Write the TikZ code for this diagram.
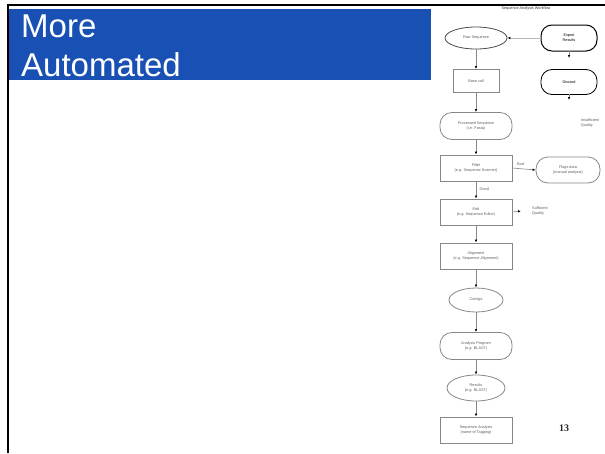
\documentclass[tikz,border=0pt]{standalone}
\usepackage{fontspec}
\setmainfont{Liberation Sans}
\newfontfamily\numfont{Liberation Serif}
\usetikzlibrary{shapes.geometric,arrows.meta}
\definecolor{slideblue}{RGB}{24,80,180}
\definecolor{boxline}{RGB}{135,135,135}
\definecolor{tinytext}{RGB}{95,95,95}
\tikzset{
  base/.style={draw=boxline,line width=0.8pt,fill=white,font=\fontsize{3.8}{4.6}\selectfont,text=tinytext,align=center,inner sep=1pt},
  rectbox/.style={base,rectangle,minimum width=72pt,minimum height=26pt},
  ovalbox/.style={base,ellipse,minimum width=60pt,minimum height=24pt},
  pillbox/.style={base,rectangle,rounded corners=12pt,minimum width=72pt,minimum height=27pt},
  sidebox/.style={base,draw=black,line width=1pt,rectangle,rounded corners=11pt,minimum width=56pt,minimum height=26pt,text=black},
  flow/.style={draw=boxline,line width=0.6pt,-{Latex[length=3pt,width=2.5pt,color=black]}},
  lbl/.style={font=\fontsize{3.8}{4.6}\selectfont,text=tinytext,align=left},
  titletext/.style={anchor=base west,text=white,font=\fontsize{33}{40}\selectfont,inner sep=0pt}
}
\begin{document}
\begin{tikzpicture}[x=1pt,y=-1pt]
\useasboundingbox (0,0) rectangle (605,453);
\fill[white] (0,0) rectangle (605,453);
% slide frame
\draw[black,line width=1.4pt] (8,453) -- (8,5) -- (605,5);
% title band
\fill[slideblue] (9,9) rectangle (431,80);
\node[titletext] (title1) at (21,37) {More};
\node[titletext] (title2) at (21,76) {Automated};
% header of the flowchart
\node[font=\fontsize{3.8}{4.6}\selectfont,text=black!80] (head) at (526,9) {Sequence Analysis Workflow};
% main column
\node[ovalbox,minimum width=62pt,minimum height=22pt,draw=black!70] (raw) at (476,38) {Raw Sequence};
\node[rectbox,minimum width=46pt,minimum height=23pt] (call) at (476,81) {Base call};
\node[pillbox] (proc) at (476,126) {Processed Sequence\\(i.e. Fasta)};
\node[rectbox] (filt) at (476,168) {Filter\\(e.g. Sequence Scanner)};
\node[rectbox] (edit) at (476,212) {Edit\\(e.g. Sequence Editor)};
\node[rectbox] (align) at (476,256) {Alignment\\(e.g. Sequence Alignment)};
\node[ovalbox,minimum width=54pt,minimum height=24pt] (contig) at (476,300) {Contigs};
\node[pillbox] (prog) at (476,346) {Analysis Program\\(e.g. BLAST)};
\node[ovalbox,minimum width=58pt,minimum height=26pt] (res) at (476,388) {Results\\(e.g. BLAST)};
\node[rectbox] (seq) at (476,430) {Sequence Analysis\\(name of Tagging)};
% side column
\node[sidebox] (export) at (569,38) {Export\\Results};
\node[sidebox,minimum height=25pt,line width=0.8pt] (discard) at (569,82) {Discard};
\node[base,rectangle,rounded corners=12pt,minimum width=64pt,minimum height=26pt] (flags) at (568,170) {Flags data\\(manual analysis)};
\node[lbl] (insuf) at (590,123) {Insufficient\\Quality};
\node[lbl] (suff) at (540,211) {Sufficient\\Quality};
\coordinate (suffend) at (521,211);
\coordinate (exs) at (569,51);
\coordinate (exe) at (569,58);
\coordinate (dis) at (569,94);
\coordinate (die) at (569,100);
% page number
\node[font=\numfont\fontsize{10}{12}\selectfont\bfseries,text=black!85] (page) at (564,428) {13};
% connectors
\draw[flow] (raw) -- (call);
\draw[flow] (call) -- (proc);
\draw[flow] (proc) -- (filt);
\draw[flow] (filt) -- node[lbl,right,pos=0.45] {Good} (edit);
\draw[flow] (edit) -- (align);
\draw[flow] (align) -- (contig);
\draw[flow] (contig) -- (prog);
\draw[flow] (prog) -- (res);
\draw[flow] (res) -- (seq);
\draw[flow,draw=boxline!60] (export) -- (raw);
\draw[flow] (exs) -- (exe);
\draw[flow] (dis) -- (die);
\draw[flow] (filt.east) -- node[lbl,above,pos=0.35] {Bad} (flags.west);
\draw[flow] (edit.east) -- (suffend);
\end{tikzpicture}
\end{document}
